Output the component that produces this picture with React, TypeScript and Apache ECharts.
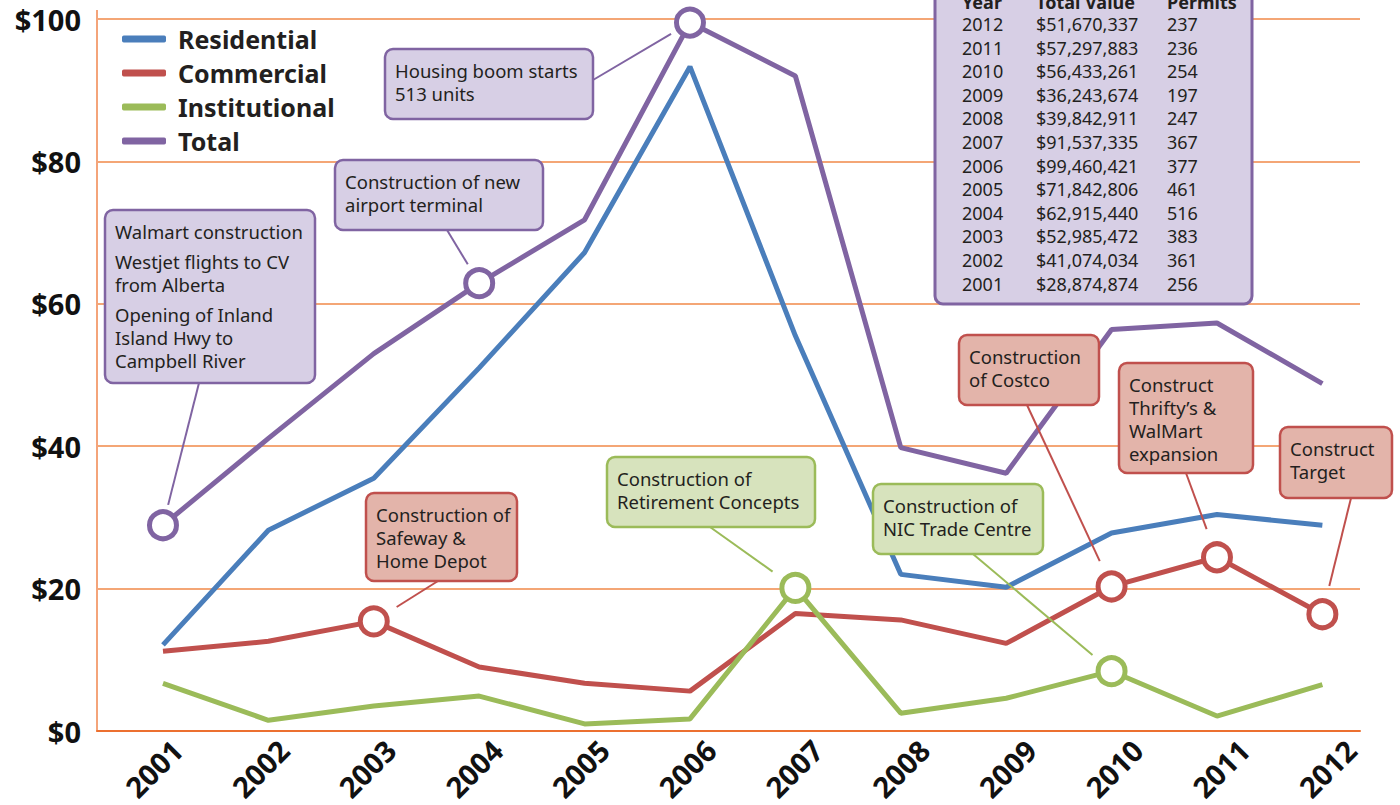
import React, { useEffect, useRef } from "react";
import * as echarts from "echarts";

const years = [2001, 2002, 2003, 2004, 2005, 2006, 2007, 2008, 2009, 2010, 2011, 2012];
const residential = [12.1, 28.2, 35.5, 51.0, 67.2, 93.3, 55.5, 22.0, 20.2, 27.8, 30.4, 28.9];
const commercial = [11.2, 12.6, 15.4, 9.0, 6.7, 5.6, 16.5, 15.6, 12.3, 20.3, 24.4, 16.4];
const institutional = [6.7, 1.5, 3.5, 4.9, 1.0, 1.7, 20.1, 2.5, 4.6, 8.4, 2.1, 6.5];
const total = [28.9, 41.1, 53.0, 62.9, 71.8, 99.5, 92.0, 39.8, 36.2, 56.4, 57.3, 48.8];

const seriesNames = ["Residential", "Commercial", "Institutional", "Total"];
const highlightYears: Record<string, number[]> = {
  Residential: [],
  Commercial: [2003, 2010, 2011, 2012],
  Institutional: [2007, 2010],
  Total: [2001, 2004, 2006],
};

const tableYears = ["2012", "2011", "2010", "2009", "2008", "2007", "2006", "2005", "2004", "2003", "2002", "2001"];
const tableValues = [
  "$51,670,337", "$57,297,883", "$56,433,261", "$36,243,674", "$39,842,911", "$91,537,335",
  "$99,460,421", "$71,842,806", "$62,915,440", "$52,985,472", "$41,074,034", "$28,874,874",
];
const tablePermits = ["237", "236", "254", "197", "247", "367", "377", "461", "516", "383", "361", "256"];
const tableHeader = ["Year", "Total Value", "Permits"];

const COLORS: Record<string, string> = {
  Residential: "#4a7ebb",
  Commercial: "#c0504d",
  Institutional: "#9bbb59",
  Total: "#8064a2",
};
const FILLS: Record<string, string> = {
  Commercial: "#e3b4aa",
  Institutional: "#d7e3bd",
  Total: "#d7cfe5",
};

const FONT = "'Noto Sans', 'Open Sans', sans-serif";
const TEXT = "#231f20";

type Ann = {
  paras: string[][];
  x: number; y: number; w: number; h: number;
  series: string; year: number;
  ax: number; ay: number; gap: number;
};

const annotations: Ann[] = [
  { paras: [["Walmart construction"], ["Westjet flights to CV", "from Alberta"], ["Opening of Inland", "Island Hwy to", "Campbell River"]],
    x: 105, y: 210, w: 210, h: 173, series: "Total", year: 2001, ax: 199, ay: 383, gap: 21 },
  { paras: [["Construction of new", "airport terminal"]],
    x: 335, y: 160, w: 208, h: 70, series: "Total", year: 2004, ax: 447, ay: 230, gap: 22 },
  { paras: [["Housing boom starts", "513 units"]],
    x: 385, y: 49, w: 208, h: 70, series: "Total", year: 2006, ax: 593, ay: 80, gap: 22 },
  { paras: [["Construction of", "Safeway &", "Home Depot"]],
    x: 366, y: 493, w: 151, h: 88, series: "Commercial", year: 2003, ax: 438, ay: 581, gap: 27 },
  { paras: [["Construction of", "Retirement Concepts"]],
    x: 607, y: 457, w: 208, h: 70, series: "Institutional", year: 2007, ax: 710, ay: 527, gap: 28 },
  { paras: [["Construction of", "NIC Trade Centre"]],
    x: 873, y: 484, w: 170, h: 70, series: "Institutional", year: 2010, ax: 973, ay: 554, gap: 25 },
  { paras: [["Construction", "of Costco"]],
    x: 959, y: 335, w: 140, h: 70, series: "Commercial", year: 2010, ax: 1027, ay: 405, gap: 28 },
  { paras: [["Construct", "Thrifty\u2019s &", "WalMart", "expansion"]],
    x: 1119, y: 363, w: 134, h: 110, series: "Commercial", year: 2011, ax: 1186, ay: 473, gap: 30 },
  { paras: [["Construct", "Target"]],
    x: 1280, y: 427, w: 112, h: 71, series: "Commercial", year: 2012, ax: 1351, ay: 498, gap: 29 },
];

const seriesData: Record<string, number[]> = {
  Residential: residential,
  Commercial: commercial,
  Institutional: institutional,
  Total: total,
};

export default function App() {
  const ref = useRef<HTMLDivElement>(null);

  useEffect(() => {
    document.body.style.margin = "0";
    if (!ref.current) return;
    const chart = echarts.init(ref.current, undefined, { renderer: "svg" });

    const series = seriesNames.map((name) => {
      const c = COLORS[name];
      return {
        name,
        type: "line",
        symbol: "circle",
        z: 2,
        lineStyle: { color: c, width: 5 },
        itemStyle: { color: c },
        data: years.map((yr, i) => {
          const v = seriesData[name][i];
          if (highlightYears[name].includes(yr)) {
            return {
              value: [yr, v],
              symbol: "circle",
              symbolSize: 27,
              itemStyle: { color: "#ffffff", borderColor: c, borderWidth: 5 },
            };
          }
          return { value: [yr, v], symbol: "none" };
        }),
      };
    });

    chart.setOption({
      animation: false,
      textStyle: { fontFamily: FONT },
      grid: { left: 97, right: 40, top: 19, bottom: 74, containLabel: false },
      legend: {
        data: seriesNames,
        orient: "vertical",
        left: 117,
        top: 21,
        itemWidth: 44,
        itemHeight: 7,
        itemGap: 8,
        icon: "roundRect",
        textStyle: { fontSize: 25, fontWeight: "bold", color: TEXT, padding: [0, 0, 0, 7], lineHeight: 26, fontFamily: FONT },
      },
      xAxis: {
        type: "value",
        min: 2000.374,
        max: 2012.357,
        splitLine: { show: false },
        axisTick: { show: false },
        axisLine: { show: true, lineStyle: { color: "#ec7030", width: 2 } },
        axisLabel: {
          customValues: years.map((y) => y + 0.133 + (y - 2001) * 0.0125),
          formatter: (v: number) => String(Math.round(v)),
          rotate: 45,
          fontSize: 29,
          fontWeight: "bold",
          color: "#111111",
          margin: 14,
          fontFamily: FONT,
        },
      },
      yAxis: {
        type: "value",
        min: 0,
        max: 100,
        interval: 20,
        axisLine: { show: true, lineStyle: { color: "#f4a47a", width: 2 } },
        axisTick: { show: false },
        axisLabel: {
          formatter: (v: number) => "$" + v,
          fontSize: 29,
          fontWeight: "bold",
          color: "#111111",
          margin: 16,
          fontFamily: FONT,
        },
        splitLine: { lineStyle: { color: "#f08848", width: 1.5 } },
      },
      series,
    });

    const elements: any[] = [];
    const top = chart.convertToPixel({ gridIndex: 0 }, [2000.374, 100]) as number[];
    elements.push({
      type: "line",
      z: 1,
      shape: { x1: top[0], y1: top[1] - 9, x2: top[0], y2: top[1] },
      style: { stroke: "#f4a47a", lineWidth: 2 },
    });

    annotations.forEach((a) => {
      const idx = years.indexOf(a.year);
      const p = chart.convertToPixel({ gridIndex: 0 }, [a.year, seriesData[a.series][idx]]) as number[];
      const dx = p[0] - a.ax;
      const dy = p[1] - a.ay;
      const len = Math.sqrt(dx * dx + dy * dy);
      const ex = p[0] - (dx / len) * a.gap;
      const ey = p[1] - (dy / len) * a.gap;
      const stroke = COLORS[a.series];
      elements.push({
        type: "line",
        z: 5,
        shape: { x1: a.ax, y1: a.ay, x2: ex, y2: ey },
        style: { stroke, lineWidth: 2 },
      });
      elements.push({
        type: "rect",
        z: 10,
        shape: { x: a.x, y: a.y, width: a.w, height: a.h, r: 8 },
        style: { fill: FILLS[a.series], stroke, lineWidth: 2.5 },
      });
      let ty = a.y + 21;
      a.paras.forEach((para, pi) => {
        if (pi > 0) ty += 7;
        para.forEach((line) => {
          elements.push({
            type: "text",
            z: 11,
            style: {
              text: line, x: a.x + 10, y: ty, fill: TEXT,
              font: `18.5px ${FONT}`, textVerticalAlign: "middle", textAlign: "left",
            },
          });
          ty += 23;
        });
      });
    });

    // data table box
    elements.push({
      type: "rect",
      z: 10,
      shape: { x: 935, y: -10, width: 317, height: 314, r: 8 },
      style: { fill: FILLS.Total, stroke: COLORS.Total, lineWidth: 3 },
    });
    const colX = [962, 1036, 1167];
    tableHeader.forEach((h, i) => {
      elements.push({
        type: "text", z: 11,
        style: { text: h, x: colX[i], y: 2, fill: TEXT, font: `bold 18px ${FONT}`, textVerticalAlign: "middle" },
      });
    });
    tableYears.forEach((yr, r) => {
      const y = 24 + r * 23.6;
      [yr, tableValues[r], tablePermits[r]].forEach((t, c) => {
        elements.push({
          type: "text", z: 11,
          style: { text: t, x: colX[c], y, fill: TEXT, font: `18px ${FONT}`, textVerticalAlign: "middle" },
        });
      });
    });

    chart.setOption({ graphic: { elements } });

    return () => chart.dispose();
  }, []);

  return <div ref={ref} style={{ width: 1400, height: 805 }} />;
}
